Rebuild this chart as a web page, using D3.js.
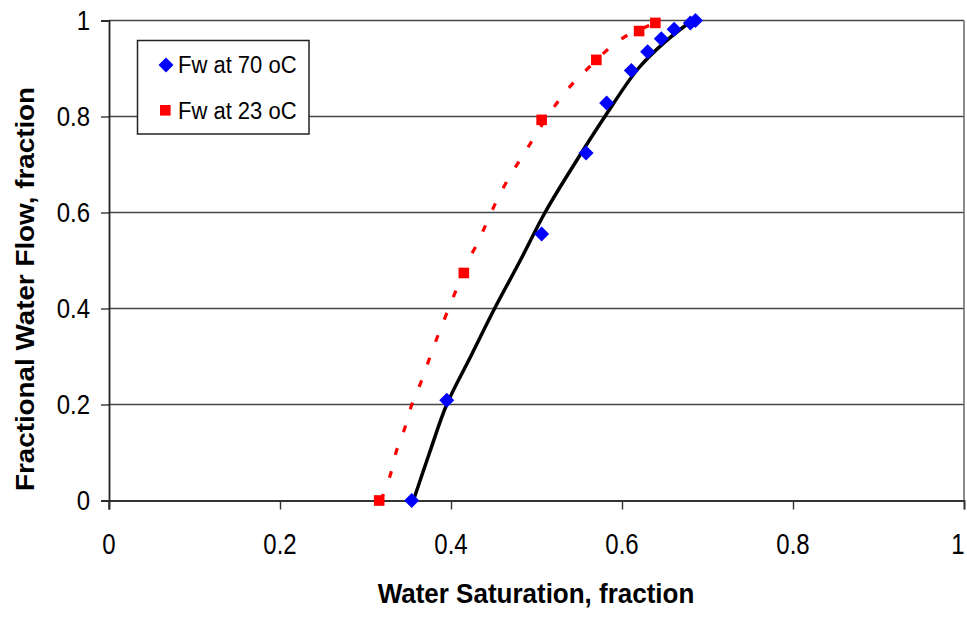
<!DOCTYPE html>
<html>
<head>
<meta charset="utf-8">
<script src="https://cdn.jsdelivr.net/npm/d3@7"></script>
<style>
  html, body { margin: 0; padding: 0; background: #fff; }
  svg { display: block; font-family: Arial, "Liberation Sans", sans-serif; }
</style>
</head>
<body>
<svg id="chart" width="967" height="617"></svg>
<script>
// ---- data ----
const xTicks = [0, 0.2, 0.4, 0.6, 0.8, 1];
const yTicks = [0, 0.2, 0.4, 0.6, 0.8, 1];
const xTickLabels = ["0", "0.2", "0.4", "0.6", "0.8", "1"];
const yTickLabels = ["0", "0.2", "0.4", "0.6", "0.8", "1"];

const sw70 = [0.354, 0.395, 0.506, 0.558, 0.582, 0.611, 0.630, 0.646, 0.661, 0.680, 0.686];
const fw70 = [0.000, 0.209, 0.555, 0.724, 0.828, 0.896, 0.935, 0.962, 0.982, 0.995, 1.000];

const sw23 = [0.316, 0.415, 0.506, 0.570, 0.620, 0.639];
const fw23 = [0.000, 0.474, 0.793, 0.918, 0.978, 0.995];

const fit70Sw = [0.356, 0.375, 0.395, 0.423, 0.451, 0.481, 0.510, 0.544, 0.580, 0.619, 0.650, 0.682];
const fit70Fw = [0.000, 0.100, 0.200, 0.300, 0.400, 0.500, 0.600, 0.700, 0.800, 0.900, 0.955, 1.000];

const fit23Sw = [0.318, 0.329, 0.336, 0.346, 0.354, 0.365, 0.375, 0.385, 0.395, 0.407, 0.417, 0.431, 0.443, 0.456, 0.471, 0.487, 0.504, 0.523, 0.542, 0.560, 0.585, 0.607, 0.631, 0.640];
const fit23Fw = [0.000, 0.053, 0.102, 0.151, 0.199, 0.247, 0.297, 0.345, 0.390, 0.443, 0.490, 0.536, 0.584, 0.634, 0.682, 0.727, 0.776, 0.826, 0.868, 0.900, 0.942, 0.970, 0.989, 0.997];

const legendLabels = ["Fw at 70 oC", "Fw at 23 oC"];
const xTitle = "Water Saturation, fraction";
const yTitle = "Fractional Water Flow, fraction";

// ---- layout ----
const svg = d3.select("#chart");
const L = 109, R = 964, T = 20.5, B = 500.5;
const x = d3.scaleLinear().domain([0, 1]).range([L, R]);
const y = d3.scaleLinear().domain([0, 1]).range([B, T]);

// gridlines
svg.append("g").selectAll("line").data(yTicks.filter(d => d > 0)).join("line")
  .attr("x1", L).attr("x2", R)
  .attr("y1", d => y(d)).attr("y2", d => y(d))
  .attr("stroke", "#444").attr("stroke-width", 1.4);

// right border
svg.append("line").attr("x1", R).attr("x2", R).attr("y1", T).attr("y2", B)
  .attr("stroke", "#666").attr("stroke-width", 1.5);

// x axis
const xAxis = svg.append("g").attr("transform", `translate(0,${B})`)
  .call(d3.axisBottom(x).tickValues(xTicks).tickSize(9).tickFormat(""));
xAxis.select(".domain").attr("stroke", "#333").attr("stroke-width", 1.8);
xAxis.selectAll(".tick line").attr("stroke", "#333").attr("stroke-width", 1.4);

// y axis
const yAxis = svg.append("g").attr("transform", `translate(${L},0)`)
  .call(d3.axisLeft(y).tickValues(yTicks).tickSize(8).tickFormat(""));
yAxis.select(".domain").attr("stroke", "#222").attr("stroke-width", 1.8);
yAxis.selectAll(".tick line").attr("stroke", "#333").attr("stroke-width", 1.4);
svg.append("line").attr("x1", L).attr("x2", L).attr("y1", B).attr("y2", B + 9)
  .attr("stroke", "#333").attr("stroke-width", 1.4);

// tick labels
svg.append("g").selectAll("text").data(xTicks).join("text")
  .attr("transform", d => `translate(${Math.min(x(d), 958)},554) scale(1,1.2)`)
  .attr("text-anchor", "middle").attr("font-size", 24).attr("fill", "#000")
  .text((d, i) => xTickLabels[i]);

svg.append("g").selectAll("text").data(yTicks).join("text")
  .attr("transform", d => `translate(90,${y(d) + 9.5}) scale(1,1.12)`)
  .attr("text-anchor", "end").attr("font-size", 24).attr("fill", "#000")
  .text((d, i) => yTickLabels[i]);

// titles
svg.append("text").attr("transform", `translate(536,603) scale(1,1.07)`)
  .attr("text-anchor", "middle").attr("font-size", 26).attr("font-weight", "bold")
  .text(xTitle);
svg.append("text").attr("transform", `translate(34,289) rotate(-90) scale(1.07,1)`)
  .attr("text-anchor", "middle").attr("font-size", 26).attr("font-weight", "bold")
  .text(yTitle);

// fitted curves
const line = d3.line().x(d => x(d[0])).y(d => y(d[1])).curve(d3.curveCatmullRom);
svg.append("path").datum(fit23Sw.map((v, i) => [v, fit23Fw[i]]))
  .attr("d", line).attr("fill", "none").attr("stroke", "#ff0000")
  .attr("stroke-width", 3.2).attr("stroke-dasharray", "7,17");
svg.append("path").datum(fit70Sw.map((v, i) => [v, fit70Fw[i]]))
  .attr("d", line).attr("fill", "none").attr("stroke", "#000")
  .attr("stroke-width", 3.5);

// markers
const diamond = (cx, cy, s) => `M${cx},${cy - s}L${cx + s},${cy}L${cx},${cy + s}L${cx - s},${cy}Z`;
svg.append("g").selectAll("path").data(sw70.map((v, i) => [v, fw70[i]])).join("path")
  .attr("d", d => diamond(x(d[0]), y(d[1]), 7.5)).attr("fill", "#0000ff");
svg.append("g").selectAll("rect").data(sw23.map((v, i) => [v, fw23[i]])).join("rect")
  .attr("x", d => x(d[0]) - 5.3).attr("y", d => y(d[1]) - 5.3)
  .attr("width", 10.6).attr("height", 10.6).attr("fill", "#ff0000");

// legend
const lg = svg.append("g");
lg.append("rect").attr("x", 137.5).attr("y", 40.5).attr("width", 171.5).attr("height", 93.5)
  .attr("fill", "#fff").attr("stroke", "#222").attr("stroke-width", 1.5);
lg.append("path").attr("d", diamond(166, 65, 7.5)).attr("fill", "#0000ff");
lg.append("rect").attr("x", 160).attr("y", 105).attr("width", 10.6).attr("height", 10.6).attr("fill", "#ff0000");
lg.append("text").attr("transform", "translate(178,73) scale(1,1.1)")
  .attr("font-size", 22).text(legendLabels[0]);
lg.append("text").attr("transform", "translate(178,118.5) scale(1,1.1)")
  .attr("font-size", 22).text(legendLabels[1]);
</script>
</body>
</html>
